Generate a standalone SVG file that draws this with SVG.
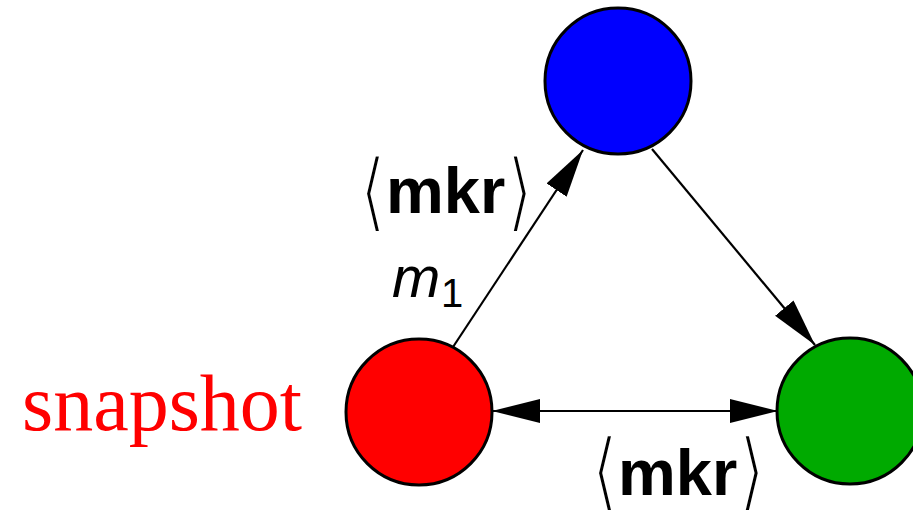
<svg xmlns="http://www.w3.org/2000/svg" width="913" height="515" viewBox="0 0 913 515">
<style>
.node{stroke:#000;stroke-width:3}
.edge{stroke:#000;stroke-width:2.2;fill:none}
.lbl{font-family:"Liberation Sans","DejaVu Sans",sans-serif;font-weight:bold;font-size:65px;fill:#000}
.br{font-family:"DejaVu Sans",sans-serif;font-weight:normal;font-size:66px;fill:#000;stroke:#fff;stroke-width:2.2}
</style>
<defs>
<marker id="ah" markerUnits="userSpaceOnUse" markerWidth="50" markerHeight="26" refX="48" refY="12" orient="auto-start-reverse" viewBox="0 0 50 26">
<path d="M0,0 L48,12 L0,24 z" fill="#000"/>
</marker>
</defs>
<rect width="913" height="515" fill="#fff"/>
<g id="connectors">
<line class="edge" x1="453" y1="347" x2="583" y2="150" marker-end="url(#ah)"/>
<line class="edge" x1="652" y1="149" x2="815" y2="345" marker-end="url(#ah)"/>
<line class="edge" x1="492" y1="411" x2="778" y2="411" marker-start="url(#ah)" marker-end="url(#ah)"/>
</g>
<g id="node-blue"><circle class="node" cx="618" cy="81" r="73" fill="#0000ff"/></g>
<g id="node-red"><circle class="node" cx="419" cy="412" r="73" fill="#ff0000"/></g>
<g id="node-green"><circle class="node" cx="850" cy="411" r="73" fill="#00aa00"/></g>
<g id="labels">
<text class="br" transform="translate(360,221) scale(1,1.32)">⟨</text>
<text class="lbl" x="386" y="213">mkr</text>
<text class="br" transform="translate(507,221) scale(1,1.32)">⟩</text>
<text x="392" y="297" font-family="'Liberation Sans',sans-serif" font-style="italic" font-size="58">m</text>
<text x="441" y="307" font-family="'Liberation Sans',sans-serif" font-size="40">1</text>
<text class="br" transform="translate(592,500) scale(1,1.3)">⟨</text>
<text class="lbl" x="618" y="495">mkr</text>
<text class="br" transform="translate(739,500) scale(1,1.3)">⟩</text>
<text x="22" y="430" font-family="'Liberation Serif',serif" font-size="80" fill="#ff0000">snapshot</text>
</g>
</svg>
